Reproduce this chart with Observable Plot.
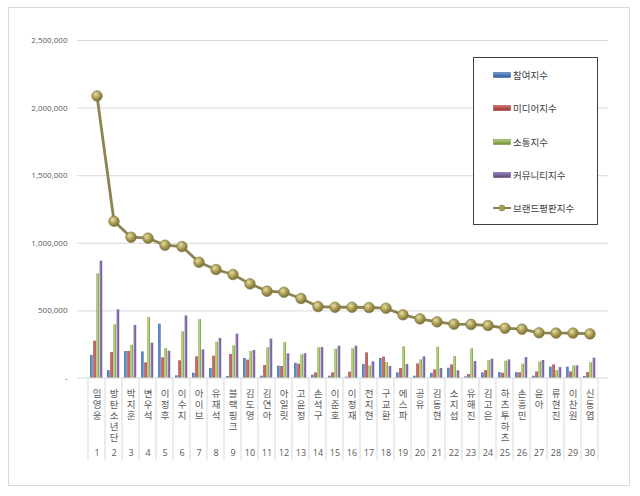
<!DOCTYPE html>
<html>
<head>
<meta charset="utf-8">
<script src="https://cdn.jsdelivr.net/npm/d3@7"></script>
<script src="https://cdn.jsdelivr.net/npm/@observablehq/plot@0.6"></script>
<style>
  html, body { margin: 0; padding: 0; background: #fff; }
  #wrap { position: relative; width: 640px; height: 496px; overflow: hidden; }
  #frame { position: absolute; left: 8px; top: 7px; width: 622px; height: 479px; border: 1px solid #d9d9d9; box-sizing: border-box; }
  #chart { position: absolute; left: 0; top: 0; }
  #legend { position: absolute; left: 473px; top: 57px; width: 125px; height: 168px; border: 1px solid #404040; box-sizing: border-box; background: #fff;
    font-family: "Noto Sans CJK KR", "Noto Sans", sans-serif; font-size: 9.5px; color: #404040; }
  .item { position: absolute; left: 19px; height: 12px; display: flex; align-items: center; }
  .item svg { margin-right: 2px; }
</style>
</head>
<body>
<div id="wrap">
  <div id="frame"></div>
  <div id="chart"></div>
  <div id="legend"></div>
</div>
<script>
const names = ["임영웅","방탄소년단","박지훈","변우석","이정후","이수지","아이브","유재석","블랙핑크","김도영",
  "김연아","아일릿","고윤정","손석구","이준호","이정재","전지현","구교환","에스파","공유",
  "김동현","소지섭","유해진","김고은","하츠투하츠","손흥민","윤아","류현진","이찬원","신동엽"];
const participation = [170000,59000,200000,197000,402000,20000,39000,74000,15000,148000,
  17000,91000,113000,25000,17000,10000,104000,148000,42000,17000,
  39000,76000,12000,42000,44000,44000,17000,84000,84000,15000];
const media = [276000,192000,200000,116000,153000,131000,160000,165000,178000,136000,
  96000,89000,106000,42000,42000,47000,190000,158000,74000,108000,
  64000,101000,30000,59000,39000,42000,49000,101000,49000,44000];
const communication = [774000,397000,246000,451000,222000,345000,436000,269000,242000,200000,
  227000,266000,175000,227000,217000,220000,94000,118000,234000,138000,
  232000,163000,220000,133000,128000,106000,123000,59000,94000,116000];
const community = [868000,508000,392000,261000,202000,463000,212000,296000,328000,207000,
  291000,183000,183000,229000,239000,239000,123000,89000,104000,160000,
  74000,57000,126000,143000,138000,155000,133000,81000,94000,150000];
const brand = [2090000,1163000,1045000,1038000,986000,976000,860000,806000,769000,700000,
  646000,638000,592000,532000,527000,527000,525000,520000,471000,441000,
  419000,402000,400000,392000,372000,365000,338000,336000,336000,330000];
const yTicks = [0,500000,1000000,1500000,2000000,2500000];

const seriesNames = ["참여지수","미디어지수","소통지수","커뮤니티지수","브랜드평판지수"];
const seriesKeys = ["p","m","c","u"];
const colors = ["#4a7ebb","#be4b48","#98b954","#7d60a0"];
const light = ["#6e9bd4","#d66e6b","#b3d177","#9b80bf"];
const dark = ["#2f5c94","#953532","#6f8c38","#5a4479"];

const rows = names.map((n, i) => ({
  rank: i + 1, name: n,
  p: participation[i], m: media[i], c: communication[i], u: community[i], brand: brand[i]
}));
// one entry per character of each name, for the stacked vertical labels
const chars = rows.flatMap(d => Array.from(d.name).map((ch, j) => ({ rank: d.rank, ch, j })));
const maxLen = d3.max(rows, d => Array.from(d.name).length);

const W = 640, H = 496, mL = 77, mR = 32, mT = 40, mB = 118;
const band = (W - mL - mR) / rows.length;
const gStart = 2.1, bw = 3.2;

const barMarks = seriesKeys.map((k, i) => Plot.barY(rows, {
  x: "rank", y: k, fill: `url(#gBar${i})`,
  insetLeft: gStart + bw * i, insetRight: band - gStart - bw * (i + 1)
}));

const charMarks = d3.range(maxLen).map(j => Plot.text(chars.filter(c => c.j === j), {
  x: "rank", text: "ch", frameAnchor: "bottom", dy: 15 + j * 11, lineAnchor: "middle",
  fontSize: 9.5, fill: "#595959", fontFamily: "'Noto Sans CJK KR', sans-serif"
}));

const chart = Plot.plot({
  width: W, height: H,
  marginLeft: mL, marginRight: mR, marginTop: mT, marginBottom: mB,
  style: { fontFamily: "'Open Sans', 'Liberation Sans', sans-serif", color: "#595959", background: "transparent" },
  x: { type: "band", domain: rows.map(d => d.rank), padding: 0, axis: null },
  y: { domain: [0, 2500000], ticks: yTicks },
  marks: [
    Plot.ruleY(yTicks.slice(1), { stroke: "#d9d9d9", strokeWidth: 1 }),
    Plot.axisY({ ticks: yTicks, tickSize: 0, tickPadding: 10, fontSize: 8,
      tickFormat: d => d === 0 ? "-" : d3.format(",")(d), fill: "#595959" }),
    ...barMarks,
    Plot.line(rows, { x: "rank", y: "brand", stroke: "#8b8350", strokeWidth: 2.8, strokeLinejoin: "round" }),
    Plot.dot(rows, { x: "rank", y: "brand", r: 5.3, fill: "url(#gDot)", stroke: "#7d7440", strokeWidth: 0.6 }),
    ...charMarks,
    Plot.text(rows, { x: "rank", text: d => String(d.rank), frameAnchor: "bottom", dy: 75, lineAnchor: "middle",
      fontSize: 9, fill: "#595959" })
  ]
});

const svg = d3.select(chart);
const defs = svg.insert("defs", ":first-child");
colors.forEach((c, i) => {
  const g = defs.append("linearGradient").attr("id", `gBar${i}`).attr("x1", "0").attr("x2", "1").attr("y1", "0").attr("y2", "0");
  g.append("stop").attr("offset", "0%").attr("stop-color", dark[i]);
  g.append("stop").attr("offset", "40%").attr("stop-color", light[i]);
  g.append("stop").attr("offset", "75%").attr("stop-color", c);
  g.append("stop").attr("offset", "100%").attr("stop-color", dark[i]);
});
const rg = defs.append("radialGradient").attr("id", "gDot").attr("cx", "38%").attr("cy", "35%").attr("r", "65%");
rg.append("stop").attr("offset", "0%").attr("stop-color", "#e6dda6");
rg.append("stop").attr("offset", "55%").attr("stop-color", "#aa9d52");
rg.append("stop").attr("offset", "100%").attr("stop-color", "#7b7139");

// category separators drawn from the x band scale
const xs = chart.scale("x");
const ys = chart.scale("y");
const y0 = ys.apply(0);
const seps = rows.map(d => xs.apply(d.rank)).concat([xs.apply(rows[rows.length - 1].rank) + xs.bandwidth]);
svg.append("g").selectAll("line").data(seps).join("line")
  .attr("x1", d => d).attr("x2", d => d).attr("y1", y0).attr("y2", y0 + 82)
  .attr("stroke", "#d9d9d9").attr("stroke-width", 1);
svg.append("line").attr("x1", xs.range[0]).attr("x2", xs.range[1]).attr("y1", y0).attr("y2", y0)
  .attr("stroke", "#d9d9d9");

document.getElementById("chart").appendChild(chart);

// legend
const legend = document.getElementById("legend");
const tops = [11, 44, 78, 111, 144];
seriesNames.forEach((s, i) => {
  const it = document.createElement("div");
  it.className = "item";
  it.style.top = tops[i] + "px";
  let icon;
  if (i < 4) {
    icon = `<svg width="18" height="6"><defs><linearGradient id="lg${i}" x1="0" x2="0" y1="0" y2="1"><stop offset="0%" stop-color="${light[i]}"/><stop offset="100%" stop-color="${dark[i]}"/></linearGradient></defs><rect x="0.5" y="0.5" width="17" height="5" fill="url(#lg${i})" stroke="${dark[i]}" stroke-width="0.5"/></svg>`;
  } else {
    icon = `<svg width="18" height="8"><line x1="0" x2="18" y1="4" y2="4" stroke="#8b8350" stroke-width="2"/><circle cx="9" cy="4" r="3" fill="#aa9d52" stroke="#7d7440" stroke-width="0.5"/></svg>`;
  }
  it.innerHTML = icon + `<span>${s}</span>`;
  legend.appendChild(it);
});
</script>
</body>
</html>
